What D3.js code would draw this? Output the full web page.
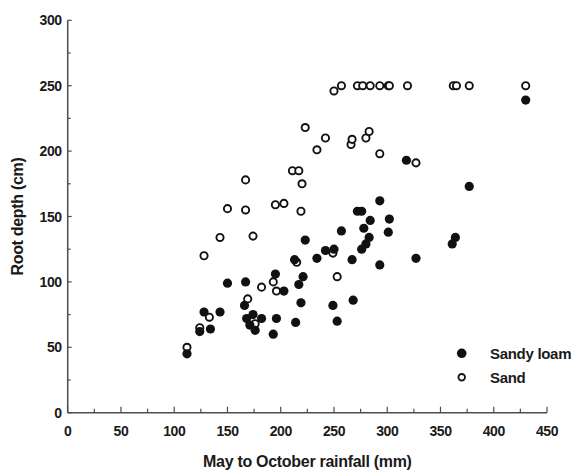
<!DOCTYPE html>
<html>
<head>
<meta charset="utf-8">
<script src="https://cdn.jsdelivr.net/npm/d3@7"></script>
<style>
  body { margin: 0; background: #fff; }
  svg text { font-family: "Liberation Sans", Arial, Helvetica, sans-serif; font-weight: bold; fill: #1a1a1a; }
</style>
</head>
<body>
<svg id="canvas" width="583" height="472"></svg>
<script>
// sand (open circles): [rainfall, depth]
var sand = [
    [112, 50], [124, 65], [128, 120], [133, 73], [143, 134], [150, 156],
    [167, 178], [167, 155], [169, 87], [174, 135], [176, 68], [182, 96],
    [193, 100], [195, 159], [196, 93], [203, 160], [211, 185], [215, 115],
    [217, 185], [219, 154], [220, 175], [223, 218], [234, 201], [242, 210],
    [249, 122], [250, 246], [253, 104], [257, 250], [266, 205], [267, 209],
    [272, 250], [277, 250], [280, 210], [283, 215], [284, 250], [293, 250],
    [293, 198], [301, 250], [302, 250], [319, 250], [327, 191], [362, 250],
    [365, 250], [377, 250], [430, 250]
];

// sandy loam (filled circles)
var sandyLoam = [
    [112, 45], [124, 62], [128, 77], [134, 64], [143, 77], [150, 99],
    [166, 82], [167, 100], [168, 72], [171, 67], [174, 75], [176, 63],
    [182, 72], [193, 60], [195, 106], [196, 72], [203, 93], [213, 117],
    [214, 69], [217, 98], [219, 84], [221, 104], [223, 132], [234, 118],
    [242, 124], [249, 82], [250, 125], [253, 70], [257, 139], [267, 117],
    [268, 86], [272, 154], [276, 125], [276, 154], [278, 141], [280, 129],
    [283, 134], [284, 147], [293, 113], [293, 162], [301, 138], [302, 148],
    [318, 193], [327, 118], [361, 129], [364, 134], [377, 173], [430, 239]
];

var xTicks = [0, 50, 100, 150, 200, 250, 300, 350, 400, 450];
var yTicks = [0, 50, 100, 150, 200, 250, 300];
var legendLabels = ['Sandy loam', 'Sand'];

var svg = d3.select('#canvas');

var x = d3.scaleLinear().domain([0, 450]).range([67.7, 547]);
var y = d3.scaleLinear().domain([0, 300]).range([412.7, 20.3]);

var axisColor = '#4d4d4d';

// x axis, ticks pointing inward
var xAxis = svg.append('g')
    .attr('transform', 'translate(0,' + y(0) + ')');

xAxis.append('line')
    .attr('x1', x(0)).attr('x2', x(450))
    .attr('stroke', axisColor).attr('stroke-width', 1.5);

xAxis.selectAll('.minor')
    .data(d3.range(25, 450, 50))
    .enter()
    .append('line')
    .attr('x1', function(d) { return x(d); })
    .attr('x2', function(d) { return x(d); })
    .attr('y1', 0).attr('y2', -4)
    .attr('stroke', axisColor).attr('stroke-width', 1.2);

xAxis.selectAll('.major')
    .data(xTicks)
    .enter()
    .append('line')
    .attr('x1', function(d) { return x(d); })
    .attr('x2', function(d) { return x(d); })
    .attr('y1', 0).attr('y2', -6)
    .attr('stroke', axisColor).attr('stroke-width', 1.2);

xAxis.selectAll('text')
    .data(xTicks)
    .enter()
    .append('text')
    .attr('x', function(d) { return x(d); })
    .attr('y', 23)
    .attr('text-anchor', 'middle')
    .style('font-size', '14px')
    .style('letter-spacing', '-0.4px')
    .text(function(d) { return d; });

// y axis
var yAxis = svg.append('g')
    .attr('transform', 'translate(' + x(0) + ',0)');

yAxis.append('line')
    .attr('y1', y(0)).attr('y2', y(300))
    .attr('stroke', axisColor).attr('stroke-width', 1.5);

yAxis.selectAll('.minor')
    .data(d3.range(25, 300, 50))
    .enter()
    .append('line')
    .attr('y1', function(d) { return y(d); })
    .attr('y2', function(d) { return y(d); })
    .attr('x1', 0).attr('x2', 3)
    .attr('stroke', axisColor).attr('stroke-width', 1.2);

yAxis.selectAll('.major')
    .data(yTicks)
    .enter()
    .append('line')
    .attr('y1', function(d) { return y(d); })
    .attr('y2', function(d) { return y(d); })
    .attr('x1', 0).attr('x2', 4)
    .attr('stroke', axisColor).attr('stroke-width', 1.2);

yAxis.selectAll('text')
    .data(yTicks)
    .enter()
    .append('text')
    .attr('x', -6)
    .attr('y', function(d) { return y(d) + 5; })
    .attr('text-anchor', 'end')
    .style('font-size', '14px')
    .style('letter-spacing', '-0.4px')
    .text(function(d) { return d; });

// titles
svg.append('text')
    .attr('x', (x(0) + x(450)) / 2)
    .attr('y', 467)
    .attr('text-anchor', 'middle')
    .style('font-size', '16px')
    .style('letter-spacing', '-0.3px')
    .text('May to October rainfall (mm)');

svg.append('text')
    .attr('transform', 'translate(23,' + (y(0) + y(300)) / 2 + ') rotate(-90)')
    .attr('text-anchor', 'middle')
    .style('font-size', '16px')
    .style('letter-spacing', '-0.3px')
    .text('Root depth (cm)');

// points: open circles first, filled drawn over them
svg.append('g').selectAll('circle')
    .data(sand)
    .enter()
    .append('circle')
    .attr('cx', function(d) { return x(d[0]); })
    .attr('cy', function(d) { return y(d[1]); })
    .attr('r', 3.6)
    .attr('fill', '#fff')
    .attr('stroke', '#111')
    .attr('stroke-width', 1.9);

svg.append('g').selectAll('circle')
    .data(sandyLoam)
    .enter()
    .append('circle')
    .attr('cx', function(d) { return x(d[0]); })
    .attr('cy', function(d) { return y(d[1]); })
    .attr('r', 4.6)
    .attr('fill', '#111');

// legend
var legend = svg.append('g');

legend.append('circle')
    .attr('cx', 461.7).attr('cy', 353.3).attr('r', 4.8)
    .attr('fill', '#111');

legend.append('circle')
    .attr('cx', 461.7).attr('cy', 377.3).attr('r', 3.3)
    .attr('fill', '#fff').attr('stroke', '#111').attr('stroke-width', 1.8);

legend.selectAll('text')
    .data(legendLabels)
    .enter()
    .append('text')
    .attr('x', 490)
    .attr('y', function(d, i) { return 358.5 + i * 24; })
    .style('font-size', '15px')
    .style('letter-spacing', '-0.3px')
    .text(function(d) { return d; });
</script>
</body>
</html>
